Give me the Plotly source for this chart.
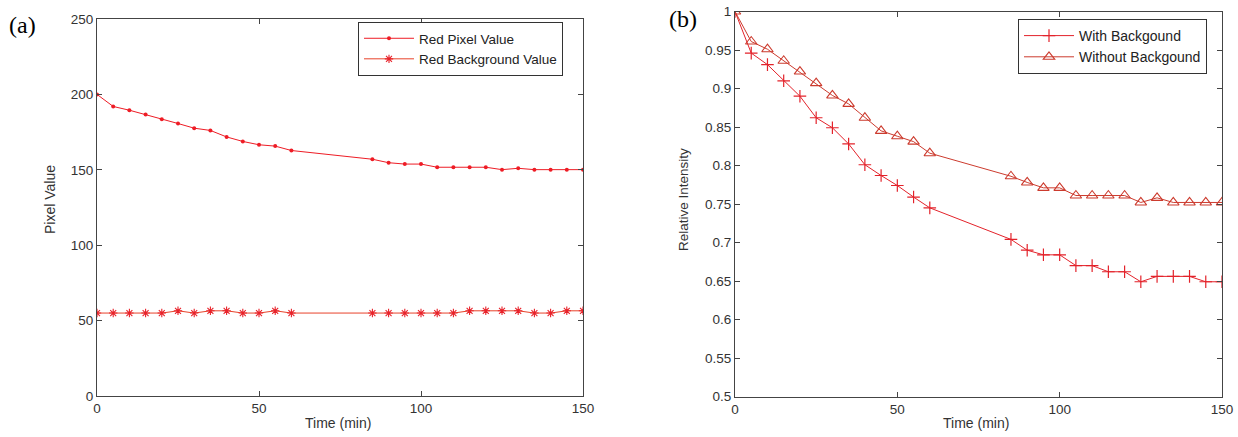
import plotly.graph_objects as go

W, H = 1238, 437

# ---- Data (a) ----
time_a = [0, 5, 10, 15, 20, 25, 30, 35, 40, 45, 50, 55, 60,
          85, 90, 95, 100, 105, 110, 115, 120, 125, 130, 135, 140, 145, 150]
red_pixel = [200, 192, 189.5, 186.7, 183.6, 180.7, 177.6, 176.1, 171.8, 168.8, 166.6, 165.7, 162.8,
             157, 154.7, 153.8, 153.8, 151.7, 151.7, 151.7, 151.7, 150.1, 151, 150.1, 150.1, 150.1, 150.1]
red_background = [55, 55, 55, 55, 55, 56.5, 55, 56.5, 56.5, 55, 55, 56.5, 55,
                  55, 55, 55, 55, 55, 55, 56.5, 56.5, 56.5, 56.5, 55, 55, 56.5, 56.5]

# ---- Data (b) ----
time_b = time_a
with_bg = [1.0, 0.946, 0.931, 0.910, 0.890, 0.862, 0.849, 0.828, 0.801, 0.787, 0.774, 0.759, 0.745,
           0.704, 0.690, 0.684, 0.684, 0.670, 0.670, 0.662, 0.662, 0.649, 0.656, 0.656, 0.656, 0.649, 0.649]
without_bg = [1.0, 0.961, 0.951, 0.936, 0.922, 0.907, 0.891, 0.880, 0.862, 0.845, 0.838, 0.831, 0.816,
              0.786, 0.778, 0.771, 0.771, 0.761, 0.761, 0.761, 0.761, 0.752, 0.758, 0.752, 0.752, 0.752, 0.752]

FONT = "Liberation Sans, Arial, sans-serif"
SERIF = "Liberation Serif, Times New Roman, serif"
AX = "#444444"
TXT = "#333333"

fig = go.Figure()

fig.add_trace(go.Scatter(x=time_a, y=red_pixel, mode="lines+markers", name="Red Pixel Value",
                         line=dict(color="#ee1c25", width=1),
                         marker=dict(symbol="circle", size=4, color="#ee1c25"),
                         xaxis="x", yaxis="y", legend="legend"))
fig.add_trace(go.Scatter(x=time_a, y=red_background, mode="lines+markers", name="Red Background Value",
                         line=dict(color="#e8422a", width=1),
                         marker=dict(symbol="asterisk-open", size=7, color="#e8222a",
                                     line=dict(width=1.1, color="#e8222a")),
                         xaxis="x", yaxis="y", legend="legend"))

fig.add_trace(go.Scatter(x=time_b, y=with_bg, mode="lines+markers", name="With Backgound",
                         line=dict(color="#e3222a", width=1),
                         marker=dict(symbol="cross-thin-open", size=9, color="#e3222a",
                                     line=dict(width=1.2, color="#e3222a")),
                         xaxis="x2", yaxis="y2", legend="legend2"))
fig.add_trace(go.Scatter(x=time_b, y=without_bg, mode="lines+markers", name="Without Backgound",
                         line=dict(color="#cc3b2e", width=1),
                         marker=dict(symbol="triangle-up-open", size=10, color="#cc3b2e",
                                     line=dict(width=1.1, color="#cc3b2e")),
                         xaxis="x2", yaxis="y2", legend="legend2"))

axis_common = dict(showline=True, linecolor=AX, linewidth=1, mirror="ticks", ticks="inside",
                   ticklen=5, tickcolor=AX, showgrid=False, zeroline=False,
                   tickfont=dict(family=FONT, size=13.5, color=TXT), automargin=False)


def ann(text, x, y, size=14, family=FONT, color=TXT, angle=0):
    return dict(text=text, x=x / W, y=1 - y / H, xref="paper", yref="paper",
                xanchor="center", yanchor="middle", showarrow=False, textangle=angle,
                font=dict(family=family, size=size, color=color))


fig.update_layout(
    width=W, height=H,
    margin=dict(l=0, r=0, t=0, b=0),
    paper_bgcolor="white", plot_bgcolor="white",
    xaxis=dict(domain=[97 / W, 583 / W], range=[0, 150], dtick=50, anchor="y", **axis_common),
    yaxis=dict(domain=[1 - 396 / H, 1 - 19 / H], range=[0, 250], dtick=50, anchor="x", **axis_common),
    xaxis2=dict(domain=[735 / W, 1222 / W], range=[0, 150], dtick=50, anchor="y2", **axis_common),
    yaxis2=dict(domain=[1 - 396.5 / H, 1 - 11.5 / H], range=[0.5, 1], dtick=0.05, anchor="x2", **axis_common),
    legend=dict(x=358 / W, y=1 - 22 / H, xanchor="left", yanchor="top",
                bgcolor="white", bordercolor="#333333", borderwidth=1,
                font=dict(family=FONT, size=13.5, color="#222222"), itemwidth=50, tracegroupgap=0),
    legend2=dict(x=1018 / W, y=1 - 19 / H, xanchor="left", yanchor="top",
                 bgcolor="white", bordercolor="#333333", borderwidth=1,
                 font=dict(family=FONT, size=14, color="#222222"), itemwidth=50, tracegroupgap=0),
    showlegend=True,
    annotations=[
        ann("Time (min)", 338, 423),
        ann("Time (min)", 976, 423),
        ann("Pixel Value", 50, 200),
        ann("Relative Intensity", 683, 200, size=13.5),
        ann("(a)", 22, 25, size=24, family=SERIF, color="black"),
        ann("(b)", 683, 19, size=24, family=SERIF, color="black"),
    ],
)
# vertical titles
fig.layout.annotations[2].textangle = -90
fig.layout.annotations[3].textangle = -90

fig.write_html("out.html")
